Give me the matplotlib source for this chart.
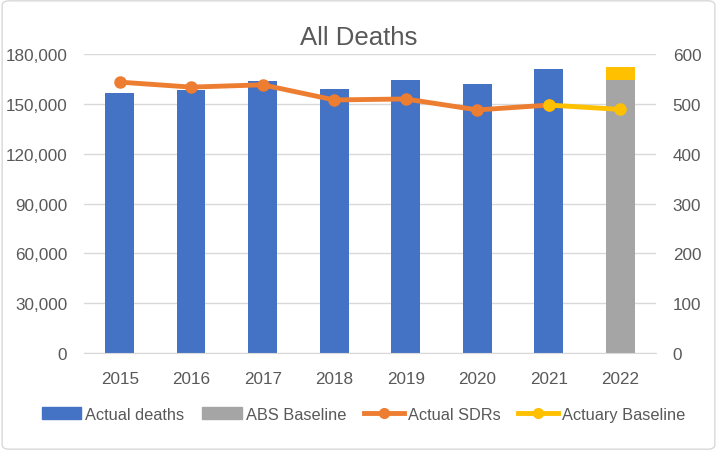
import matplotlib.pyplot as plt
from matplotlib.lines import Line2D
from matplotlib.patches import Patch, FancyBboxPatch
import numpy as np

years = ["2015", "2016", "2017", "2018", "2019", "2020", "2021", "2022"]
actual_deaths = [156500, 158300, 163700, 159000, 164300, 161900, 171000, 0]
abs_baseline = [0, 0, 0, 0, 0, 0, 0, 164300]
actuary_extra = [0, 0, 0, 0, 0, 0, 0, 7900]
actual_sdrs = [543.8, 533.8, 538.4, 508.0, 510.0, 488.0, 497.7]
actuary_sdr_years = ["2021", "2022"]
actuary_sdrs = [497.7, 489.0]

blue = "#4472C4"
gray = "#A5A5A5"
orange = "#ED7D31"
yellow = "#FFC000"
txt = "#595959"

plt.rcParams["font.family"] = ["Liberation Sans", "DejaVu Sans"]

fig = plt.figure(figsize=(7.17, 4.52), dpi=100)
ax = fig.add_axes([0.117, 0.217, 0.798, 0.661])
ax2 = ax.twinx()

x = np.arange(len(years))
w = 0.4
ax.bar(x, actual_deaths, w, color=blue, zorder=2)
ax.bar(x, abs_baseline, w, color=gray, zorder=2)
ax.bar(x, actuary_extra, w, bottom=abs_baseline, color=yellow, zorder=2)

ax.set_ylim(0, 180000)
ax.set_xlim(-0.5, 7.5)
ax.set_yticks(np.arange(0, 180001, 30000))
ax.set_yticklabels([f"{v:,}" for v in range(0, 180001, 30000)])
ax.set_xticks(x)
ax.set_xticklabels(years)
ax.yaxis.grid(True, color="#D9D9D9", linewidth=1, zorder=0)
ax.set_axisbelow(True)

x_sdr = [years.index(y) for y in years[:len(actual_sdrs)]]
ax2.plot(x_sdr, actual_sdrs, color=orange, linewidth=3.5, marker="o",
         markersize=8, solid_capstyle="round", zorder=3)
x_act = [years.index(y) for y in actuary_sdr_years]
ax2.plot(x_act, actuary_sdrs, color=yellow, linewidth=3.5, marker="o",
         markersize=8, zorder=4)
ax2.set_ylim(0, 600)
ax2.set_yticks(np.arange(0, 601, 100))

for a in (ax, ax2):
    for s in a.spines.values():
        s.set_visible(False)
    a.tick_params(length=0, labelsize=12.3, colors=txt)
ax.spines["bottom"].set_visible(True)
ax.spines["bottom"].set_color("#D9D9D9")
ax.tick_params(axis="x", pad=13)
ax.tick_params(axis="y", pad=12)
ax2.tick_params(axis="y", pad=12)

fig.text(0.5, 0.915, "All Deaths", ha="center", va="center", fontsize=18.5, color=txt)

handles = [
    Patch(color=blue, label="Actual deaths"),
    Patch(color=gray, label="ABS Baseline"),
    Line2D([], [], color=orange, linewidth=3.5, marker="o", markersize=7, label="Actual SDRs"),
    Line2D([], [], color=yellow, linewidth=3.5, marker="o", markersize=7, label="Actuary Baseline"),
]
leg = fig.legend(handles=handles, loc="center", bbox_to_anchor=(0.507, 0.081), ncol=4,
                 frameon=False, fontsize=11.8, handlelength=2.4, handleheight=0.7,
                 columnspacing=1.1, handletextpad=0.25)
for t in leg.get_texts():
    t.set_color(txt)

border = FancyBboxPatch((0.003, 0.004), 0.994, 0.992, boxstyle="round,pad=0,rounding_size=0.01",
                        transform=fig.transFigure, fill=False, edgecolor="#D9D9D9", linewidth=1)
fig.patches.append(border)

fig.savefig("out.png", dpi=100)
